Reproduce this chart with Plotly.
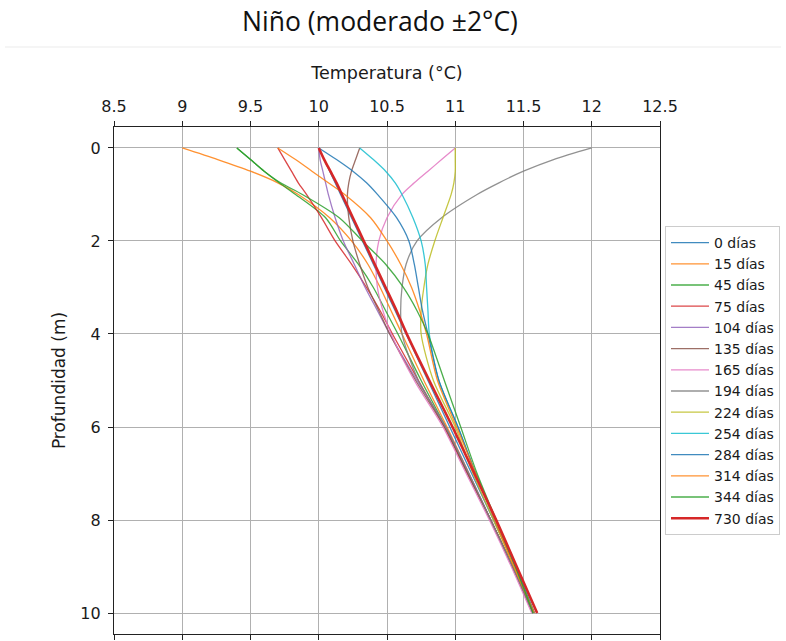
import plotly.graph_objects as go

# Depth levels (m) at which each temperature profile is sampled
profundidad = [0, 0.25, 0.5, 0.75, 1, 1.5, 2, 2.5, 3, 3.5, 4, 5, 6, 7, 8, 9, 10]

dias = ["0 días", "15 días", "45 días", "75 días", "104 días", "135 días", "165 días",
        "194 días", "224 días", "254 días", "284 días", "314 días", "344 días", "730 días"]

# Temperature (°C) at each depth, one list per day
t_0 = [10.0, 10.04, 10.08, 10.12, 10.16, 10.24, 10.32, 10.40, 10.48, 10.56, 10.64, 10.80, 10.96, 11.12, 11.28, 11.44, 11.60]
t_15 = [9.0, 9.26, 9.50, 9.70, 9.85, 10.08, 10.24, 10.36, 10.45, 10.53, 10.61, 10.77, 10.94, 11.10, 11.26, 11.42, 11.57]
t_45 = [9.4, 9.50, 9.60, 9.71, 9.83, 10.05, 10.16, 10.29, 10.40, 10.49, 10.58, 10.75, 10.93, 11.09, 11.26, 11.42, 11.57]
t_75 = [9.7, 9.75, 9.80, 9.85, 9.91, 10.02, 10.12, 10.24, 10.35, 10.45, 10.54, 10.73, 10.92, 11.09, 11.26, 11.42, 11.57]
t_104 = [10.0, 10.01, 10.03, 10.05, 10.07, 10.12, 10.18, 10.26, 10.34, 10.43, 10.52, 10.72, 10.93, 11.10, 11.26, 11.42, 11.57]
t_135 = [10.3, 10.27, 10.24, 10.22, 10.21, 10.22, 10.25, 10.30, 10.36, 10.44, 10.52, 10.71, 10.92, 11.09, 11.26, 11.42, 11.57]
t_165 = [11.0, 10.90, 10.80, 10.70, 10.61, 10.50, 10.44, 10.42, 10.43, 10.47, 10.53, 10.70, 10.91, 11.08, 11.25, 11.41, 11.56]
t_194 = [12.0, 11.72, 11.50, 11.32, 11.16, 10.90, 10.72, 10.64, 10.61, 10.60, 10.61, 10.73, 10.93, 11.10, 11.26, 11.42, 11.57]
t_224 = [11.0, 11.0, 11.0, 10.99, 10.97, 10.91, 10.85, 10.80, 10.77, 10.75, 10.75, 10.84, 11.00, 11.13, 11.28, 11.43, 11.58]
t_254 = [10.3, 10.40, 10.49, 10.56, 10.61, 10.69, 10.75, 10.78, 10.79, 10.80, 10.81, 10.88, 11.02, 11.15, 11.30, 11.44, 11.58]
t_284 = [10.0, 10.13, 10.25, 10.35, 10.43, 10.57, 10.66, 10.70, 10.73, 10.76, 10.80, 10.88, 11.02, 11.15, 11.29, 11.44, 11.58]
t_314 = [9.7, 9.83, 9.95, 10.07, 10.19, 10.38, 10.50, 10.60, 10.68, 10.74, 10.79, 10.87, 11.01, 11.15, 11.29, 11.43, 11.58]
t_344 = [9.4, 9.50, 9.60, 9.72, 9.88, 10.15, 10.32, 10.49, 10.62, 10.72, 10.80, 10.92, 11.04, 11.16, 11.30, 11.44, 11.57]
t_730 = [10.0, 10.04, 10.085, 10.13, 10.17, 10.25, 10.33, 10.41, 10.49, 10.57, 10.645, 10.81, 10.98, 11.14, 11.30, 11.45, 11.60]

perfiles = [t_0, t_15, t_45, t_75, t_104, t_135, t_165, t_194, t_224, t_254, t_284, t_314, t_344, t_730]

colores = ["#1f77b4", "#ff7f0e", "#2ca02c", "#d62728", "#9467bd", "#8c564b", "#e377c2",
           "#7f7f7f", "#bcbd22", "#17becf", "#1f77b4", "#ff7f0e", "#2ca02c", "#d62728"]

temp_ticks = [8.5, 9, 9.5, 10, 10.5, 11, 11.5, 12, 12.5]
prof_ticks = [0, 2, 4, 6, 8, 10]

fig = go.Figure()
for nombre, temps, color in zip(dias, perfiles, colores):
    grueso = nombre == "730 días"
    fig.add_trace(go.Scatter(
        x=temps, y=profundidad, mode="lines", name=nombre,
        line=dict(color=color, width=2.6 if grueso else 1.3, shape="spline", smoothing=0.8),
        opacity=1.0 if grueso else 0.85,
    ))

W, H = 786, 641
L, R, T, B = 114, 126, 127, 7
pw, ph = W - L - R, H - T - B

fig.update_layout(
    width=W, height=H,
    template="none",
    paper_bgcolor="white", plot_bgcolor="white",
    margin=dict(l=L, r=R, t=T, b=B, autoexpand=False),
    font=dict(family="DejaVu Sans", size=16, color="#1a1a1a"),
    title=dict(text="Niño (moderado ±2°C)", x=380 / W, xref="container",
               y=1 - 22 / H, yref="container", xanchor="center", yanchor="middle",
               font=dict(family="Open Sans", size=26.5, color="#111111")),
    xaxis=dict(
        side="top", range=[8.5, 12.5], tickvals=temp_ticks,
        ticktext=[f"{v:g}" for v in temp_ticks],
        ticks="outside", ticklen=5, tickwidth=1, tickcolor="#222222",
        ticklabelstandoff=3,
        showline=True, linecolor="#222222", linewidth=1.2, mirror="ticks",
        showgrid=True, gridcolor="#b0b0b0", gridwidth=1, zeroline=False,
        automargin=False,
        title=dict(text="Temperatura (°C)", standoff=12, font=dict(size=17.5)),
        tickfont=dict(size=16),
    ),
    yaxis=dict(
        range=[10.45, -0.45], tickvals=prof_ticks,
        ticks="outside", ticklen=5, tickwidth=1, tickcolor="#222222",
        ticklabelstandoff=4,
        showline=True, linecolor="#222222", linewidth=1.2, mirror=True,
        showgrid=True, gridcolor="#b0b0b0", gridwidth=1, zeroline=False,
        automargin=False,
        title=dict(text="Profundidad (m)", standoff=10, font=dict(size=17)),
        tickfont=dict(size=16),
    ),
    legend=dict(
        x=(665 - L) / pw, y=(H - B - 226) / ph, xanchor="left", yanchor="top",
        bgcolor="white", bordercolor="#cccccc", borderwidth=1,
        font=dict(size=14), itemwidth=38, tracegroupgap=0,
    ),
    shapes=[dict(type="line", xref="paper", yref="paper",
                 x0=(5 - L) / pw, x1=(781 - L) / pw,
                 y0=(H - B - 47) / ph, y1=(H - B - 47) / ph,
                 line=dict(color="#f5f5f5", width=2))],
)

fig.write_html("out.html")
